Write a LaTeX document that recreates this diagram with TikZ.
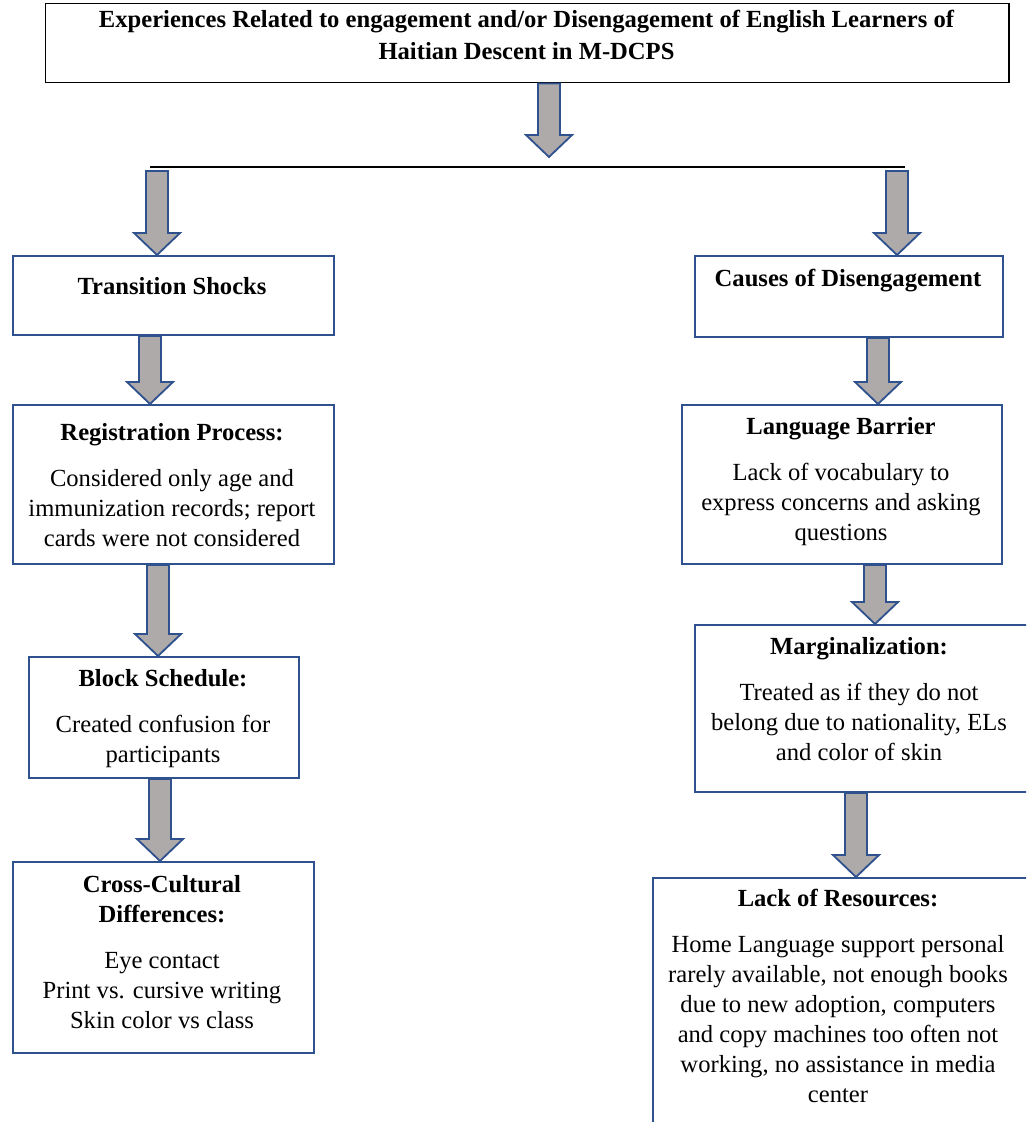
\documentclass[tikz,border=0pt]{standalone}
\usepackage{fontspec}
\setmainfont{Liberation Serif}
\usetikzlibrary{calc}

\definecolor{boxblue}{HTML}{2F528F}
\definecolor{arrowgray}{HTML}{AEAAAA}

\newcommand{\figfont}{\fontsize{17.5}{21.3}\selectfont}
\newcommand{\arrshaft}{0.275cm}
\newcommand{\arrhead}{0.575cm}
\newcommand{\arrheadlen}{0.55cm}

% block arrow straight down: start point, tip point (x taken from the start)
\newcommand{\blockarrow}[2]{%
  \draw[blockarr] let \p1=#1, \p2=#2 in
    (\x1-\arrshaft,\y1) -- (\x1+\arrshaft,\y1) -- (\x1+\arrshaft,\y2+\arrheadlen)
    -- (\x1+\arrhead,\y2+\arrheadlen) -- (\x1,\y2) -- (\x1-\arrhead,\y2+\arrheadlen)
    -- (\x1-\arrshaft,\y2+\arrheadlen) -- cycle;}

\tikzset{
  box/.style={draw=boxblue, line width=1.4pt, anchor=north west, inner sep=0pt},
  txt/.style={anchor=north, align=center, inner sep=0pt, font=\figfont},
  blockarr/.style={draw=boxblue, fill=arrowgray, line width=1.3pt, line join=miter}
}

\begin{document}
\begin{tikzpicture}[x=0.025cm, y=-0.025cm]
  \useasboundingbox (0,0) rectangle (1026,1122);
  \clip (0,0) rectangle (1026,1122);

  % title
  \node[box, draw=black, line width=1pt, minimum width=24.075cm, minimum height=1.975cm] (title) at (45,3) {};
  \node[txt, font=\fontsize{17.5}{22.7}\selectfont\bfseries] (titletext) at (526.5,10)
    {Experiences Related to engagement and/or Disengagement of English Learners of\\
     Haitian Descent in M-DCPS};

  \coordinate (drop) at (549,157);
  \coordinate (lineL) at (150,167);
  \coordinate (lineR) at (905,167);
  \draw[line width=0.9pt] (lineL) -- (lineR);

  % left column
  \node[box, minimum width=8.025cm, minimum height=1.975cm] (ts) at (12,255) {};
  \node[txt] (tstext) at (172,277) {\bfseries Transition Shocks};

  \node[box, minimum width=8.025cm, minimum height=3.975cm] (rp) at (12,404) {};
  \node[txt] (rptext) at (172,423)
    {\bfseries Registration Process:\\[0.4cm]
     Considered only age and\\ immunization records; report\\ cards were not considered};

  \node[box, minimum width=6.75cm, minimum height=3.025cm] (bs) at (28,656) {};
  \node[txt] (bstext) at (163,669)
    {\bfseries Block Schedule:\\[0.4cm]
     Created confusion for\\ participants};

  \node[box, minimum width=7.525cm, minimum height=4.775cm] (cc) at (12,861) {};
  \node[txt] (cctext) at (162,875)
    {\bfseries Cross-Cultural\\ \bfseries Differences:\\[0.4cm]
     Eye contact\\ Print vs. cursive writing\\ Skin color vs class};

  % right column
  \node[box, minimum width=7.7cm, minimum height=2.025cm] (cod) at (694,255) {};
  \node[txt] (codtext) at (848,269) {\bfseries Causes of Disengagement};

  \node[box, minimum width=8cm, minimum height=3.975cm] (lb) at (681,404) {};
  \node[txt] (lbtext) at (841,417)
    {\bfseries Language Barrier\\[0.4cm]
     Lack of vocabulary to\\ express concerns and asking\\ questions};

  \node[box, minimum width=8.65cm, minimum height=4.175cm] (mg) at (694,624) {};
  \node[txt] (mgtext) at (859,637)
    {\bfseries Marginalization:\\[0.4cm]
     Treated as if they do not\\ belong due to nationality, ELs\\ and color of skin};

  \node[box, minimum width=10cm, minimum height=7.5cm] (lr) at (652,877) {};
  \node[txt] (lrtext) at (838,889)
    {\bfseries Lack of Resources:\\[0.4cm]
     Home Language support personal\\ rarely available, not enough books\\
     due to new adoption, computers\\ and copy machines too often not\\
     working, no assistance in media\\ center};

  % arrows
  \blockarrow{(549,0 |- title.south)}{(drop)}
  \blockarrow{(157,171)}{(157,0 |- ts.north)}
  \blockarrow{(897,171)}{(897,0 |- cod.north)}
  \blockarrow{(150,0 |- ts.south)}{(150,0 |- rp.north)}
  \blockarrow{(158,0 |- rp.south)}{(158,0 |- bs.north)}
  \blockarrow{(160,0 |- bs.south)}{(160,0 |- cc.north)}
  \blockarrow{(878,0 |- cod.south)}{(878,0 |- lb.north)}
  \blockarrow{(875,0 |- lb.south)}{(875,0 |- mg.north)}
  \blockarrow{(856,0 |- mg.south)}{(856,0 |- lr.north)}
\end{tikzpicture}
\end{document}
